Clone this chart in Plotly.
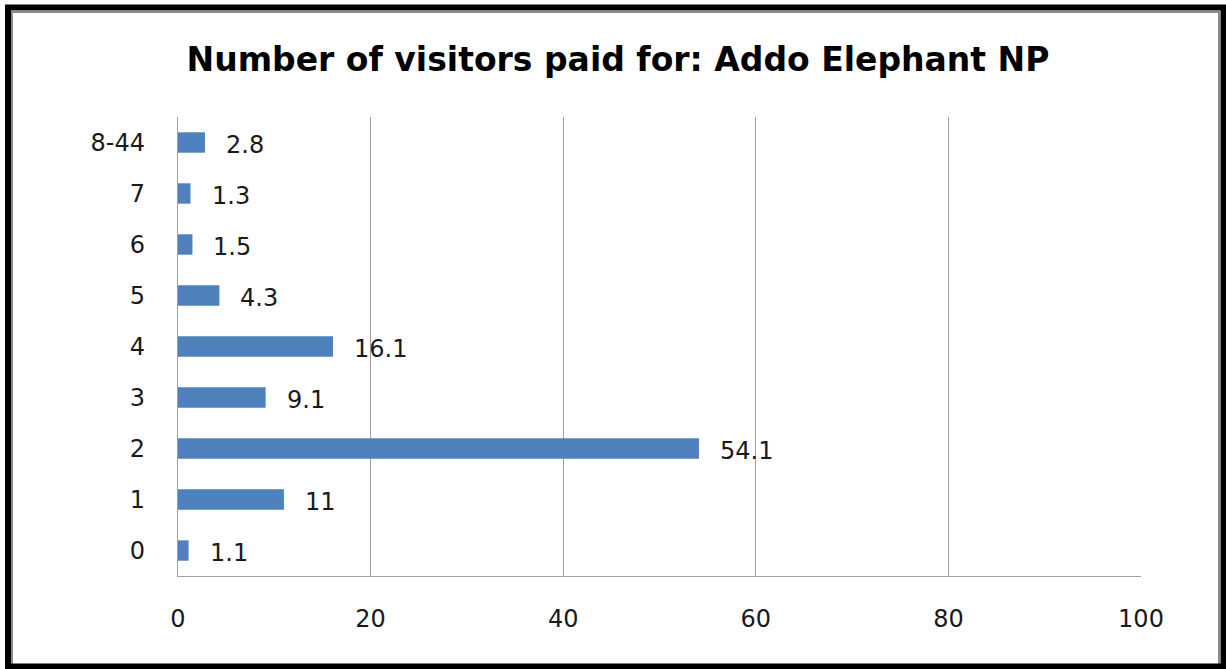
import plotly.graph_objects as go

# Visitors paid for, by group size (percent)
categories = ["0", "1", "2", "3", "4", "5", "6", "7", "8-44"]
values = [1.1, 11, 54.1, 9.1, 16.1, 4.3, 1.5, 1.3, 2.8]
value_labels = ["1.1", "11", "54.1", "9.1", "16.1", "4.3", "1.5", "1.3", "2.8"]
x_ticks = [0, 20, 40, 60, 80, 100]

W, H = 1226, 669
L, R, T, B = 178, 85, 117, 93
pw, ph = W - L - R, H - T - B

FONT = "DejaVu Sans"
BAR = "#4F81BD"
GRID = "#a0a0a0"
TEXT = "#1a1a1a"


def px(x):
    return (x - L) / pw


def py(y):
    return 1 - (y - T) / ph


fig = go.Figure(go.Bar(
    x=values, y=categories, orientation="h",
    marker=dict(color=BAR, line=dict(width=0)),
    hoverinfo="skip",
))

annotations = [
    dict(x=v, y=c, xref="x", yref="y", text=t, showarrow=False,
         xanchor="left", xshift=19, yshift=-2,
         font=dict(family=FONT, size=24, color=TEXT))
    for v, c, t in zip(values, categories, value_labels)
]

# outer frame with inner shadow line
shapes = [
    dict(type="rect", xref="paper", yref="paper",
         x0=px(8), x1=px(1223.5), y0=py(7.5), y1=py(666.5),
         line=dict(color="black", width=6), layer="above"),
    dict(type="rect", xref="paper", yref="paper",
         x0=px(12), x1=px(1219), y0=py(12), y1=py(665),
         line=dict(color="#8c8c8c", width=2), layer="below"),
]

fig.update_layout(
    width=W, height=H,
    margin=dict(l=L, r=R, t=T, b=B, pad=0),
    paper_bgcolor="white", plot_bgcolor="white",
    bargap=0.6,
    showlegend=False,
    title=dict(text="<b>Number of visitors paid for: Addo Elephant NP</b>",
               x=618 / W, xanchor="center", y=1 - 59 / H, yanchor="middle",
               font=dict(family=FONT, size=33, color="black")),
    xaxis=dict(range=[0, 100], tickvals=x_ticks, showgrid=True,
               gridcolor=GRID, gridwidth=1.3, zeroline=False,
               showline=True, linecolor=GRID, linewidth=1.3, mirror=False,
               ticks="", ticklabelstandoff=21,
               tickfont=dict(family=FONT, size=24, color=TEXT)),
    yaxis=dict(categoryorder="array", categoryarray=categories,
               showgrid=False, zeroline=False, showline=True,
               linecolor=GRID, linewidth=1.3, ticks="", ticklabelstandoff=27,
               tickfont=dict(family=FONT, size=24, color=TEXT)),
    annotations=annotations,
    shapes=shapes,
)

fig.write_html("out.html")
